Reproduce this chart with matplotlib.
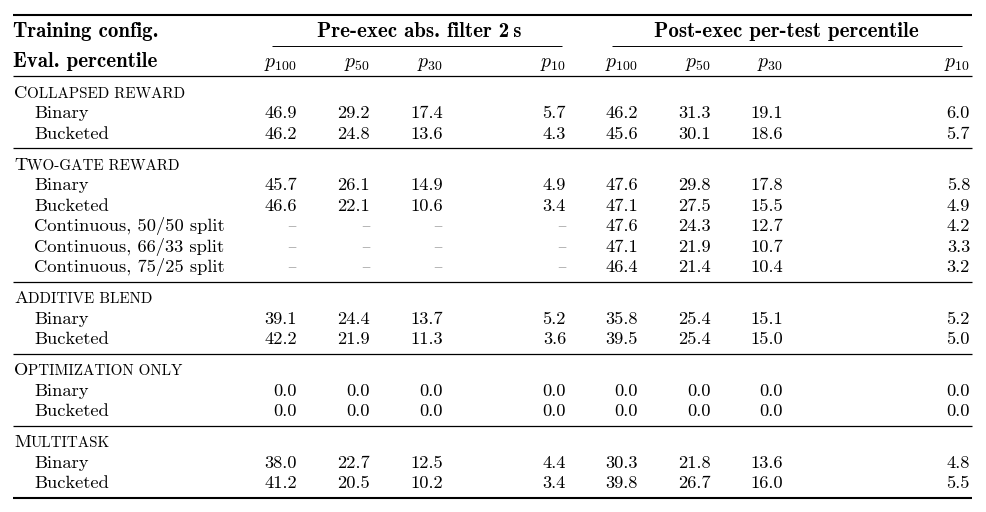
import matplotlib
matplotlib.use("Agg")
import matplotlib.pyplot as plt

plt.rcParams['font.family'] = ['cmr10', 'DejaVu Serif']
plt.rcParams['mathtext.fontset'] = 'cm'
plt.rcParams['axes.unicode_minus'] = False

# ---------------- data ----------------
group_names = ["Collapsed reward", "Two-gate reward", "Additive blend",
               "Optimization only", "Multitask"]
group_rows = [
    ["Binary", "Bucketed"],
    ["Binary", "Bucketed", "Continuous, 50/50 split",
     "Continuous, 66/33 split", "Continuous, 75/25 split"],
    ["Binary", "Bucketed"],
    ["Binary", "Bucketed"],
    ["Binary", "Bucketed"],
]
pre_exec = [
    [[46.9, 29.2, 17.4, 5.7], [46.2, 24.8, 13.6, 4.3]],
    [[45.7, 26.1, 14.9, 4.9], [46.6, 22.1, 10.6, 3.4],
     [None, None, None, None], [None, None, None, None], [None, None, None, None]],
    [[39.1, 24.4, 13.7, 5.2], [42.2, 21.9, 11.3, 3.6]],
    [[0.0, 0.0, 0.0, 0.0], [0.0, 0.0, 0.0, 0.0]],
    [[38.0, 22.7, 12.5, 4.4], [41.2, 20.5, 10.2, 3.4]],
]
post_exec = [
    [[46.2, 31.3, 19.1, 6.0], [45.6, 30.1, 18.6, 5.7]],
    [[47.6, 29.8, 17.8, 5.8], [47.1, 27.5, 15.5, 4.9],
     [47.6, 24.3, 12.7, 4.2], [47.1, 21.9, 10.7, 3.3], [46.4, 21.4, 10.4, 3.2]],
    [[35.8, 25.4, 15.1, 5.2], [39.5, 25.4, 15.0, 5.0]],
    [[0.0, 0.0, 0.0, 0.0], [0.0, 0.0, 0.0, 0.0]],
    [[30.3, 21.8, 13.6, 4.8], [39.8, 26.7, 16.0, 5.5]],
]
percentile_labels = ["100", "50", "30", "10"]
header_left = ["Training config.", "Eval. percentile"]
group_headers = ["Pre-exec abs. filter 2\u2009s", "Post-exec per-test percentile"]

# ---------------- layout ----------------
W, H = 987, 512
fig = plt.figure(figsize=(W / 100, H / 100), dpi=100)
ax = fig.add_axes([0, 0, 1, 1])
ax.set_xlim(0, W)
ax.set_ylim(H, 0)
ax.axis('off')

FS = 13.3
BOLD = dict(family=['cmb10', 'DejaVu Serif'], fontsize=15.0)
XL, XR = 13, 972
pre_cols = [297, 370, 443, 566]
post_cols = [638, 711, 783, 970]
base_off = 6.3

def hrule(y, lw, x0=XL, x1=XR):
    ax.plot([x0, x1], [y, y], color='black', lw=lw, solid_capstyle='butt')

renderer = fig.canvas.get_renderer()
inv = ax.transData.inverted()

def smallcaps(x, yb, s, size):
    runs = []
    first = True
    for ch in s:
        if first:
            runs.append((ch, size))
            first = False
        else:
            runs.append((ch.upper(), size * 0.82))
    merged = []
    for t, sz in runs:
        if merged and merged[-1][1] == sz:
            merged[-1] = (merged[-1][0] + t, sz)
        else:
            merged.append((t, sz))
    cx = x
    for t, sz in merged:
        txt = ax.text(cx, yb, t, fontsize=sz, ha='left', va='baseline')
        bb = txt.get_window_extent(renderer)
        cx = inv.transform((bb.x1, bb.y0))[0]

# rules and headers
hrule(15, 1.5)
ax.text(XL, 31 + base_off, header_left[0], ha='left', va='baseline', **BOLD)
ax.text(419, 31 + base_off, group_headers[0], ha='center', va='baseline', **BOLD)
ax.text(786, 31 + base_off, group_headers[1], ha='center', va='baseline', **BOLD)
hrule(46, 0.7, 272, 562)
hrule(46, 0.7, 612, 962)
ax.text(XL, 61 + base_off, header_left[1], ha='left', va='baseline', **BOLD)
for cols in (pre_cols, post_cols):
    for cx, lab in zip(cols, percentile_labels):
        ax.text(cx, 61 + base_off, r"$p_{%s}$" % lab, ha='right', va='baseline',
                fontsize=14.2)
hrule(76, 0.9)

def fmt(v):
    return "\u2013" if v is None else f"{v:.1f}"

y = 76
for gi, gname in enumerate(group_names):
    y += 15.5
    smallcaps(14, y + base_off, gname, FS)
    for ri, rname in enumerate(group_rows[gi]):
        y += 20.5
        ax.text(34, y + base_off, rname, ha='left', va='baseline', fontsize=FS)
        for cols, vals in ((pre_cols, pre_exec[gi][ri]), (post_cols, post_exec[gi][ri])):
            for cx, v in zip(cols, vals):
                ax.text(cx, y + base_off, fmt(v), ha='right', va='baseline',
                        fontsize=FS, color='#b0b0b0' if v is None else 'black')
    y += 15.5
    hrule(y, 1.5 if gi == len(group_names) - 1 else 0.9)

fig.savefig("out.png", dpi=100)
